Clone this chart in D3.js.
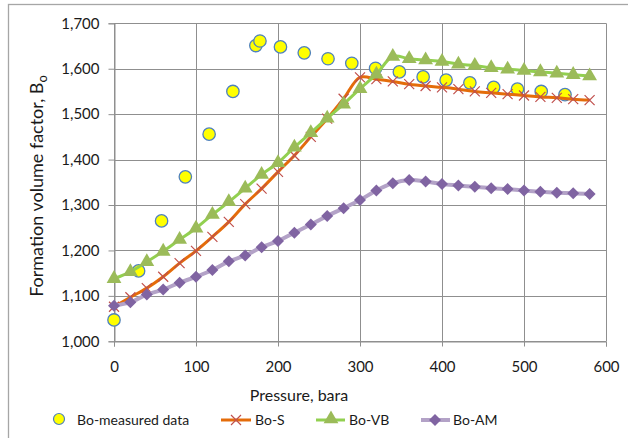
<!DOCTYPE html>
<html><head><meta charset="utf-8">
<script src="https://cdn.jsdelivr.net/npm/d3@7"></script>
<style>
body{margin:0;background:#fff;}
svg{display:block;font-family:Lato,"Open Sans",sans-serif;}
</style></head><body>
<svg id="c" width="628" height="438"></svg>
<script>
const measuredP = [0,30,58,87,116,145,173,178,203,232,261,290,319,348,377,405,434,463,492,521,550];
const measuredBo = [1.047,1.155,1.265,1.362,1.456,1.550,1.651,1.661,1.648,1.635,1.622,1.612,1.601,1.593,1.582,1.575,1.569,1.559,1.555,1.550,1.543];
const modelP = [0,20,40,60,80,100,120,140,160,180,200,220,240,260,280,300,320,340,360,380,400,420,440,460,480,500,520,540,560,580];
const boS = [1.076,1.097,1.117,1.142,1.172,1.199,1.230,1.263,1.302,1.336,1.373,1.409,1.450,1.490,1.534,1.581,1.577,1.572,1.566,1.562,1.559,1.555,1.550,1.547,1.544,1.541,1.538,1.536,1.533,1.531];
const boVB = [1.138,1.153,1.175,1.198,1.224,1.249,1.279,1.307,1.337,1.367,1.393,1.427,1.459,1.491,1.522,1.556,1.588,1.627,1.622,1.619,1.616,1.610,1.607,1.602,1.599,1.596,1.593,1.590,1.587,1.584];
const boAM = [1.078,1.086,1.103,1.114,1.129,1.142,1.157,1.176,1.189,1.207,1.221,1.239,1.257,1.276,1.293,1.311,1.332,1.348,1.355,1.352,1.346,1.343,1.340,1.337,1.335,1.332,1.329,1.327,1.326,1.324];
const xTicks = [0,100,200,300,400,500,600];
const yTicks = [1.0,1.1,1.2,1.3,1.4,1.5,1.6,1.7];
const legendLabels = ["Bo-measured data","Bo-S","Bo-VB","Bo-AM"];

const svg = d3.select("#c");
const x = d3.scaleLinear().domain([0,600]).range([114,606]);
const y = d3.scaleLinear().domain([1.0,1.7]).range([341.3,23.3]);
const grid = "#8f8f8f";

// chart border
svg.append("rect").attr("x",8.5).attr("y",4.5).attr("width",640).attr("height",460)
  .attr("fill","none").attr("stroke","#a6a6a6").attr("stroke-width",1.3);

// gridlines
svg.append("g").selectAll("line").data(yTicks).join("line")
  .attr("x1",x(0)).attr("x2",x(600)).attr("y1",d=>Math.round(y(d))+0.5).attr("y2",d=>Math.round(y(d))+0.5)
  .attr("stroke",grid).attr("stroke-width",1);
svg.append("g").selectAll("line").data(xTicks).join("line")
  .attr("y1",y(1.0)).attr("y2",y(1.7)).attr("x1",d=>Math.round(x(d))+0.5).attr("x2",d=>Math.round(x(d))+0.5)
  .attr("stroke",grid).attr("stroke-width",1);

// axes
const fmt = d => d3.format(".3f")(d).replace(".",",");
const yAxis = svg.append("g").attr("transform",`translate(${Math.round(x(0))+0.5},0)`)
  .call(d3.axisLeft(y).tickValues(yTicks).tickFormat(fmt).tickSize(6).tickPadding(9));
const xAxis = svg.append("g").attr("transform",`translate(0,${Math.round(y(1.0))+0.5})`)
  .call(d3.axisBottom(x).tickValues(xTicks).tickFormat(d3.format("d")).tickSize(5).tickPadding(15));
[yAxis,xAxis].forEach(a=>{
  a.select(".domain").attr("stroke",grid);
  a.selectAll(".tick line").attr("stroke",grid);
  a.selectAll(".tick text").attr("fill","#1a1a1a").attr("font-size",15).attr("font-family","Lato,'Open Sans',sans-serif");
});

// titles
const yt = svg.append("text").attr("transform","translate(43,186) rotate(-90)")
  .attr("text-anchor","middle").attr("font-size",18).attr("fill","#1a1a1a");
yt.append("tspan").text("Formation volume factor, B");
yt.append("tspan").attr("font-size",13).attr("dy",4).text("o");
svg.append("text").attr("x",299).attr("y",401).attr("text-anchor","middle")
  .attr("font-size",16).attr("fill","#1a1a1a").text("Pressure, bara");

// series
const line = d3.line().x(d=>x(d[0])).y(d=>y(d[1])).curve(d3.curveCatmullRom.alpha(0.5));
const sData = modelP.map((p,i)=>[p,boS[i]]);
const vbData = modelP.map((p,i)=>[p,boVB[i]]);
const amData = modelP.map((p,i)=>[p,boAM[i]]);
const mData = measuredP.map((p,i)=>[p,measuredBo[i]]);

const circleCol = {fill:"#ffff00",stroke:"#4f81bd"};
const sCol = {line:"#e46c0a",mark:"#c0504d"};
const vbCol = {line:"#92d050",mark:"#9bbb59"};
const amCol = {line:"#b3a2c7",mark:"#8064a2"};

function xMark(g,cx,cy,s){
  g.append("path").attr("d",`M${cx-s},${cy-s}L${cx+s},${cy+s}M${cx-s},${cy+s}L${cx+s},${cy-s}`)
   .attr("stroke",sCol.mark).attr("stroke-width",1.2).attr("fill","none");
}
const tri = d3.symbol().type(d3.symbolTriangle).size(95);
const dia = (cx,cy,s)=>`M${cx},${cy-s}L${cx+s},${cy}L${cx},${cy+s}L${cx-s},${cy}Z`;

// measured
svg.append("g").selectAll("circle").data(mData).join("circle")
  .attr("cx",d=>x(d[0])).attr("cy",d=>y(d[1])).attr("r",6.2)
  .attr("fill",circleCol.fill).attr("stroke",circleCol.stroke).attr("stroke-width",1.3);

// Bo-S
svg.append("path").datum(sData).attr("d",line).attr("fill","none").attr("stroke",sCol.line).attr("stroke-width",3);
const sg = svg.append("g");
sData.forEach(d=>xMark(sg,x(d[0]),y(d[1]),5));

// Bo-VB
svg.append("path").datum(vbData).attr("d",line).attr("fill","none").attr("stroke",vbCol.line).attr("stroke-width",3);
svg.append("g").selectAll("path").data(vbData).join("path")
  .attr("d",tri).attr("transform",d=>`translate(${x(d[0])},${y(d[1])})`).attr("fill",vbCol.mark);

// Bo-AM
svg.append("path").datum(amData).attr("d",line).attr("fill","none").attr("stroke",amCol.line).attr("stroke-width",4);
svg.append("g").selectAll("path").data(amData).join("path")
  .attr("d",d=>dia(x(d[0]),y(d[1]),6)).attr("fill",amCol.mark);

// legend
const ly = 420;
const lg = svg.append("g").attr("font-size",14).attr("fill","#1a1a1a");
lg.append("circle").attr("cx",59).attr("cy",ly-1).attr("r",5.5).attr("fill",circleCol.fill).attr("stroke",circleCol.stroke).attr("stroke-width",1.2);
lg.append("text").attr("x",77).attr("y",ly+5).text(legendLabels[0]);
lg.append("line").attr("x1",221).attr("x2",251).attr("y1",ly).attr("y2",ly).attr("stroke",sCol.line).attr("stroke-width",3);
xMark(lg,236,ly,5);
lg.append("text").attr("x",255).attr("y",ly+5).text(legendLabels[1]);
lg.append("line").attr("x1",316).attr("x2",345).attr("y1",ly).attr("y2",ly).attr("stroke",vbCol.line).attr("stroke-width",3);
lg.append("path").attr("d",tri).attr("transform",`translate(331,${ly-1})`).attr("fill",vbCol.mark);
lg.append("text").attr("x",349).attr("y",ly+5).text(legendLabels[2]);
lg.append("line").attr("x1",421).attr("x2",450).attr("y1",ly).attr("y2",ly).attr("stroke",amCol.line).attr("stroke-width",4);
lg.append("path").attr("d",dia(435,ly,6)).attr("fill",amCol.mark);
lg.append("text").attr("x",453).attr("y",ly+5).text(legendLabels[3]);
</script>
</body></html>
